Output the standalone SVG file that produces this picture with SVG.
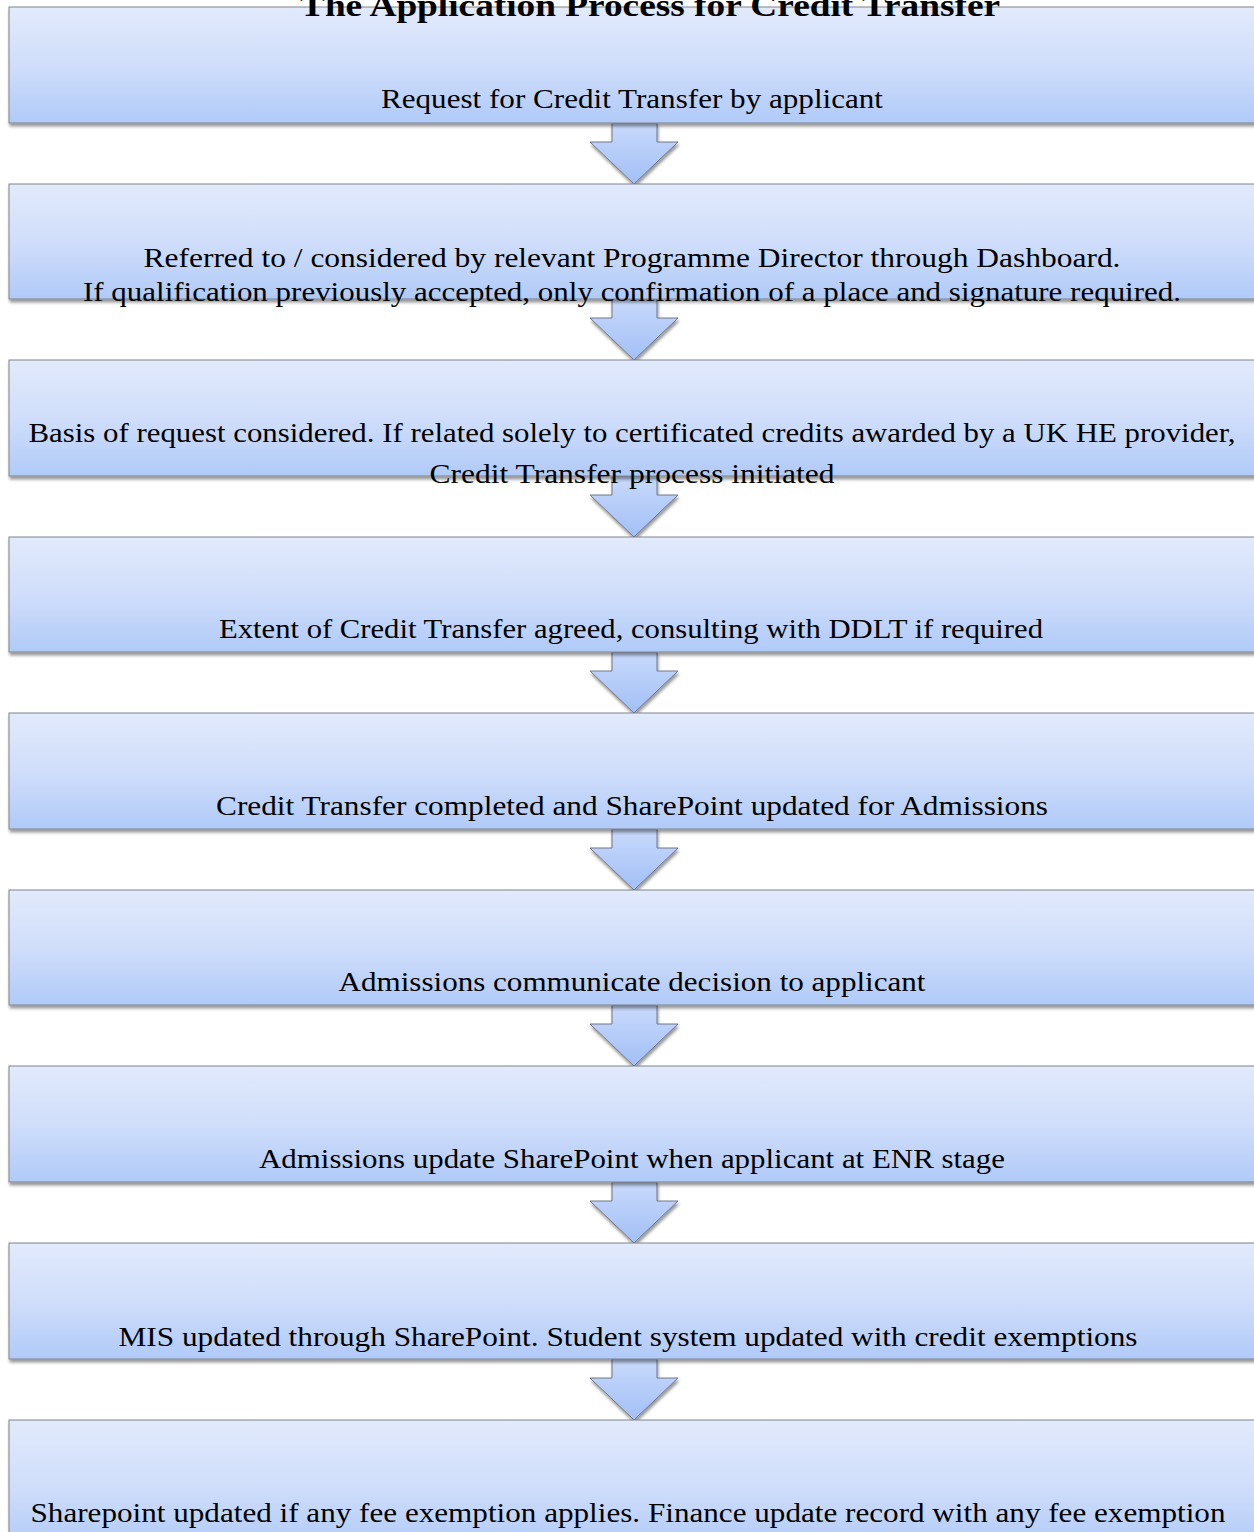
<svg xmlns="http://www.w3.org/2000/svg" width="1254" height="1532" viewBox="0 0 1254 1532">
  <defs>
    <linearGradient id="boxFill" x1="0" y1="0" x2="0" y2="1">
      <stop offset="0" stop-color="#e2eafc"/>
      <stop offset="0.5" stop-color="#d0defb"/>
      <stop offset="1" stop-color="#b0caf8"/>
    </linearGradient>
    <linearGradient id="arrowFill" x1="0" y1="0" x2="0" y2="1">
      <stop offset="0" stop-color="#c9dafc"/>
      <stop offset="1" stop-color="#a2bff6"/>
    </linearGradient>
    <filter id="shadow" x="-5%" y="-20%" width="110%" height="150%">
      <feDropShadow dx="1" dy="3" stdDeviation="1.6" flood-color="#000" flood-opacity="0.4"/>
    </filter>
    <!-- downward block arrow: shaft from box bottom, head 19px below, tip 61px below -->
    <path id="downArrow" d="M612,0 H657 V19 H678 L634,61 L590,19 H612 Z"/>
  </defs>
  <style>
    .box { fill: url(#boxFill); stroke: #7d838e; stroke-width: 1; filter: url(#shadow); }
    .arrow { fill: url(#arrowFill); stroke: #6f7787; stroke-width: 1; filter: url(#shadow); }
    .label { font-family: "Liberation Serif", "Times New Roman", serif; font-size: 28px; fill: #000; text-anchor: middle; }
    .title { font-family: "Liberation Serif", "Times New Roman", serif; font-size: 32px; font-weight: bold; fill: #000; text-anchor: middle; }
  </style>

  <rect width="1254" height="1532" fill="#fff"/>

  <g id="connectors">
    <use href="#downArrow" class="arrow" transform="translate(0,123)"/>
    <use href="#downArrow" class="arrow" transform="translate(0,299)"/>
    <use href="#downArrow" class="arrow" transform="translate(0,476)"/>
    <use href="#downArrow" class="arrow" transform="translate(0,652)"/>
    <use href="#downArrow" class="arrow" transform="translate(0,829)"/>
    <use href="#downArrow" class="arrow" transform="translate(0,1005)"/>
    <use href="#downArrow" class="arrow" transform="translate(0,1182)"/>
    <use href="#downArrow" class="arrow" transform="translate(0,1359)"/>
  </g>

  <g id="step1">
    <rect class="box" x="9" y="7" width="1250" height="116"/>
    <text class="label" x="632" y="108" textLength="502" lengthAdjust="spacingAndGlyphs">Request for Credit Transfer by applicant</text>
  </g>

  <g id="step2">
    <rect class="box" x="9" y="184" width="1250" height="115"/>
    <text class="label" x="632" y="267" textLength="977" lengthAdjust="spacingAndGlyphs">Referred to / considered by relevant Programme Director through Dashboard.</text>
    <text class="label" x="632" y="301" textLength="1098" lengthAdjust="spacingAndGlyphs">If qualification previously accepted, only confirmation of a place and signature required.</text>
  </g>

  <g id="step3">
    <rect class="box" x="9" y="360" width="1250" height="116"/>
    <text class="label" x="632" y="442" textLength="1207" lengthAdjust="spacingAndGlyphs">Basis of request considered. If related solely to certificated credits awarded by a UK HE provider,</text>
    <text class="label" x="632" y="483" textLength="405" lengthAdjust="spacingAndGlyphs">Credit Transfer process initiated</text>
  </g>

  <g id="step4">
    <rect class="box" x="9" y="537" width="1250" height="115"/>
    <text class="label" x="631" y="638" textLength="824" lengthAdjust="spacingAndGlyphs">Extent of Credit Transfer agreed, consulting with DDLT if required</text>
  </g>

  <g id="step5">
    <rect class="box" x="9" y="713" width="1250" height="116"/>
    <text class="label" x="632" y="815" textLength="832" lengthAdjust="spacingAndGlyphs">Credit Transfer completed and SharePoint updated for Admissions</text>
  </g>

  <g id="step6">
    <rect class="box" x="9" y="890" width="1250" height="115"/>
    <text class="label" x="632" y="991" textLength="587" lengthAdjust="spacingAndGlyphs">Admissions communicate decision to applicant</text>
  </g>

  <g id="step7">
    <rect class="box" x="9" y="1066" width="1250" height="116"/>
    <text class="label" x="632" y="1168" textLength="746" lengthAdjust="spacingAndGlyphs">Admissions update SharePoint when applicant at ENR stage</text>
  </g>

  <g id="step8">
    <rect class="box" x="9" y="1243" width="1250" height="116"/>
    <text class="label" x="628" y="1346" textLength="1019" lengthAdjust="spacingAndGlyphs">MIS updated through SharePoint. Student system updated with credit exemptions</text>
  </g>

  <g id="step9">
    <rect class="box" x="9" y="1420" width="1250" height="130"/>
    <text class="label" x="628" y="1522" textLength="1195" lengthAdjust="spacingAndGlyphs">Sharepoint updated if any fee exemption applies. Finance update record with any fee exemption</text>
  </g>

  <g id="heading">
    <text class="title" x="650" y="16" textLength="700" lengthAdjust="spacingAndGlyphs">The Application Process for Credit Transfer</text>
  </g>
</svg>
